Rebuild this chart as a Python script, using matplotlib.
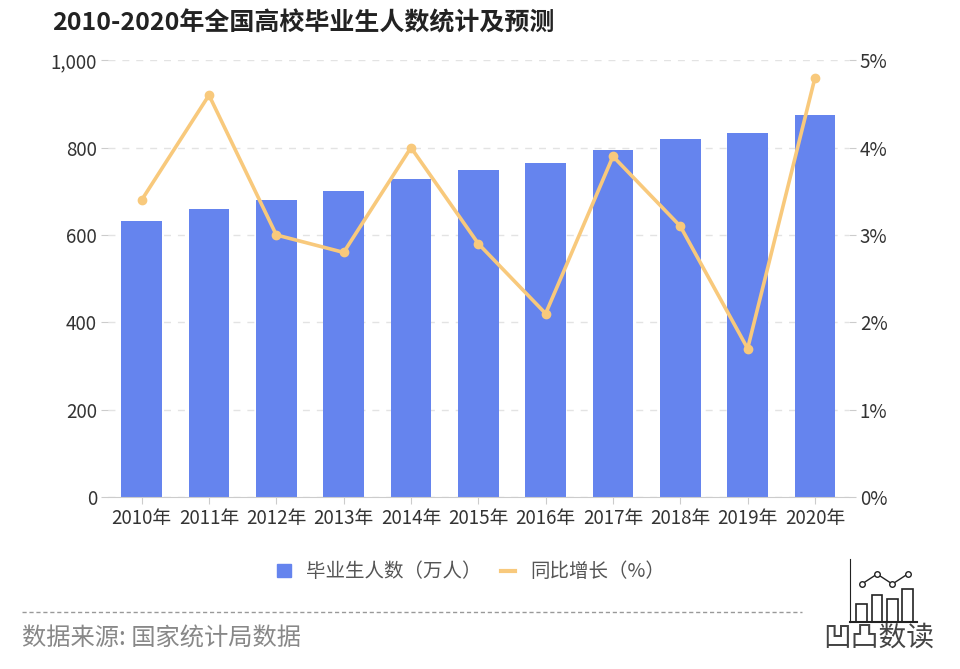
import matplotlib
matplotlib.use("Agg")
import matplotlib.pyplot as plt
from matplotlib.lines import Line2D
from matplotlib.patches import Patch

plt.rcParams['font.family'] = ['Noto Sans CJK SC', 'DejaVu Sans']

years = ['2010年', '2011年', '2012年', '2013年', '2014年', '2015年',
         '2016年', '2017年', '2018年', '2019年', '2020年']
graduates = [631, 660, 680, 700, 727, 749, 765, 795, 820, 834, 874]   # 万人
growth = [3.4, 4.6, 3.0, 2.8, 4.0, 2.9, 2.1, 3.9, 3.1, 1.7, 4.8]      # %

# little logo icon (decoration)
logo_bars = [2, 3, 2.5, 3.6]
logo_line = [4.2, 5.3, 4.2, 5.3]

bar_color = '#6584ee'
line_color = '#f8c97c'
grey = '#cccccc'

fig = plt.figure(figsize=(9.6, 6.69), dpi=100)
ax = fig.add_axes([0.1125, 0.257, 0.7715, 0.653])
x = list(range(len(years)))
ax.bar(x, graduates, width=0.6, color=bar_color, zorder=2)
ax.set_ylim(0, 1000)
ax.set_xlim(-0.5, len(years) - 0.5)
ax.set_yticks([0, 200, 400, 600, 800, 1000])
ax.set_yticklabels(['0', '200', '400', '600', '800', '1,000'])
ax.set_xticks(x)
ax.set_xticklabels(years)
ax.yaxis.grid(True, linestyle=(0, (5, 5)), color='#e3e3e3', linewidth=1, zorder=0)
ax.set_axisbelow(True)
for s in ['top', 'right', 'left']:
    ax.spines[s].set_visible(False)
ax.spines['bottom'].set_color(grey)
ax.tick_params(axis='y', length=5, color=grey, labelsize=13.5, labelcolor='#333333', pad=3)
ax.tick_params(axis='x', length=5, color=grey, labelsize=13.5, labelcolor='#333333', pad=3)

ax2 = ax.twinx()
ax2.plot(x, growth, color=line_color, linewidth=2.6, marker='o', markersize=6, zorder=3)
ax2.set_ylim(0, 5)
ax2.set_yticks([0, 1, 2, 3, 4, 5])
ax2.set_yticklabels(['0%', '1%', '2%', '3%', '4%', '5%'])
for s in ['top', 'right', 'left', 'bottom']:
    ax2.spines[s].set_visible(False)
ax2.tick_params(axis='y', length=5, color=grey, labelsize=13.5, labelcolor='#333333', pad=3)

fig.text(0.054, 0.965, '2010-2020年全国高校毕业生人数统计及预测', fontsize=18,
         fontweight='bold', color='#222222', va='center', ha='left')

handles = [Patch(color=bar_color, label='毕业生人数（万人）'),
           Line2D([0], [0], color=line_color, linewidth=3, label='同比增长（%）')]
fig.legend(handles=handles, loc='center', bbox_to_anchor=(0.491, 0.145), ncol=2,
           frameon=False, fontsize=14, labelcolor='#555555', handlelength=0.7,
           handleheight=0.7, columnspacing=1.0, handletextpad=0.8)

fig.add_artist(Line2D([0.023, 0.835], [0.085, 0.085], color='#999999',
                      linewidth=1, linestyle=(0, (3, 2))))
fig.text(0.023, 0.046, '数据来源: 国家统计局数据', fontsize=17.5, color='#888888',
         va='center', ha='left')

# logo
lax = fig.add_axes([0.885, 0.07, 0.07, 0.095])
lax.bar([1, 2, 3, 4], logo_bars, width=0.7, color='white', edgecolor='#222222', linewidth=1.2)
lax.plot([1, 2, 3, 4], logo_line, color='#222222', linewidth=1, marker='o',
         markerfacecolor='white', markersize=4)
lax.set_xlim(0.2, 4.6)
lax.set_ylim(0, 7)
lax.set_xticks([])
lax.set_yticks([])
for s in ['top', 'right']:
    lax.spines[s].set_visible(False)
lax.spines['left'].set_color('#222222')
lax.spines['bottom'].set_color('#222222')
lax.spines['bottom'].set_linewidth(1.5)
lax.patch.set_alpha(0)
fig.text(0.915, 0.047, '凹凸数读', fontsize=20, fontweight='light', color='#444444',
         va='center', ha='center')

fig.savefig('out.png', dpi=100)
